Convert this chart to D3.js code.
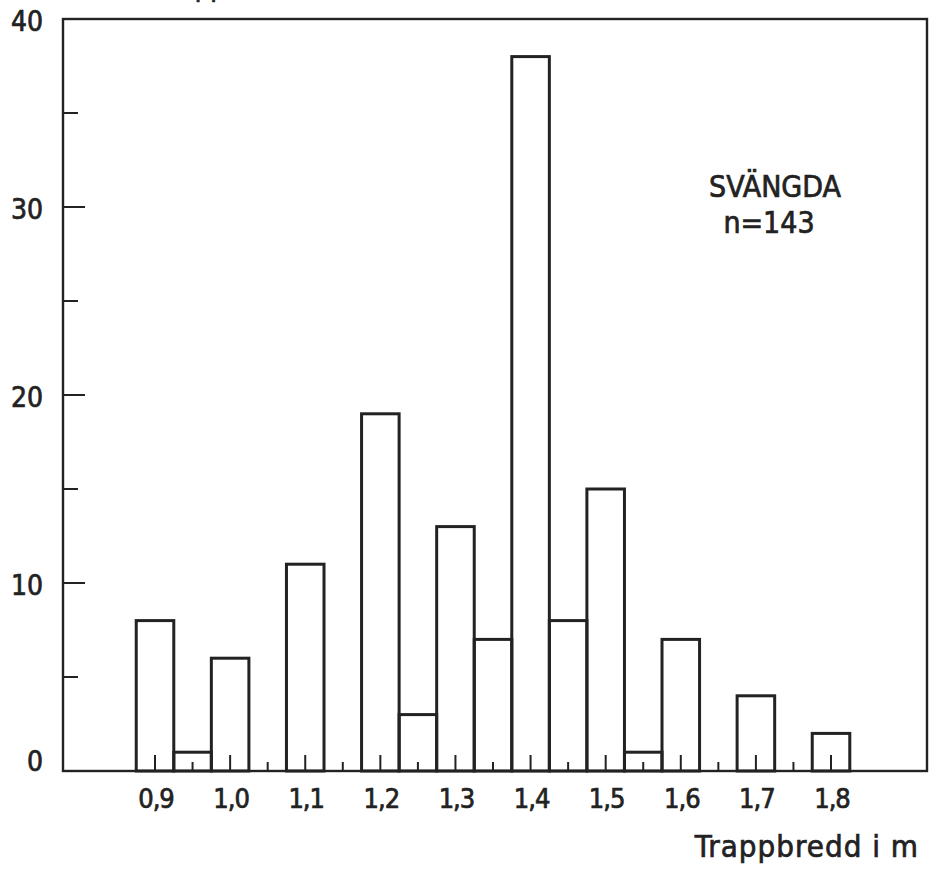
<!DOCTYPE html>
<html>
<head>
<meta charset="utf-8">
<script src="https://cdn.jsdelivr.net/npm/d3@7"></script>
<style>
  html, body { margin: 0; padding: 0; background: #fff; }
  svg { display: block; }
  text { font-family: "DejaVu Sans Condensed", "DejaVu Sans", sans-serif; fill: #222;
         stroke: #222; stroke-width: 0.7px; }
</style>
</head>
<body>
<script>
// Stair width classes (m), 0.05 m bins, and number of stairs in each
const binCenters = [0.90, 0.95, 1.00, 1.05, 1.10, 1.15, 1.20, 1.25, 1.30, 1.35,
                    1.40, 1.45, 1.50, 1.55, 1.60, 1.65, 1.70, 1.75, 1.80];
const counts     = [8, 1, 6, 0, 11, 0, 19, 3, 13, 7,
                    38, 8, 15, 1, 7, 0, 4, 0, 2];
const binWidth = 0.05;

const xMajorTicks  = [0.9, 1.0, 1.1, 1.2, 1.3, 1.4, 1.5, 1.6, 1.7, 1.8];
const xMajorLabels = ["0,9", "1,0", "1,1", "1,2", "1,3", "1,4", "1,5", "1,6", "1,7", "1,8"];
const xMinorTicks  = [0.95, 1.05, 1.15, 1.25, 1.35, 1.45, 1.55, 1.65, 1.75];
const yMajorTicks  = [0, 10, 20, 30, 40];
const yMinorTicks  = [5, 15, 25, 35];

const W = 934, H = 870;
const plot = { left: 63, right: 927, top: 19, bottom: 771 };

const svg = d3.select("body").append("svg").attr("width", W).attr("height", H);

const x = d3.scaleLinear().domain([0.7775, 1.9278]).range([plot.left, plot.right]);
const y = d3.scaleLinear().domain([0, 40]).range([plot.bottom, plot.top]);

const ink = "#222";

// Axis title (runs off the top edge of the page)
svg.append("text")
  .attr("x", 170).attr("y", -4)
  .attr("text-anchor", "middle")
  .attr("font-size", 27)
  .text("Antal trappor");

// Histogram outline
svg.append("g")
  .selectAll("rect")
  .data(binCenters.map((c, i) => ({ c, n: counts[i] })).filter(d => d.n > 0))
  .join("rect")
  .attr("x", d => x(d.c - binWidth / 2))
  .attr("width", d => x(d.c + binWidth / 2) - x(d.c - binWidth / 2))
  .attr("y", d => y(d.n))
  .attr("height", d => y(0) - y(d.n))
  .attr("fill", "none")
  .attr("stroke", ink)
  .attr("stroke-width", 3);

// Frame
svg.append("rect")
  .attr("x", plot.left).attr("y", plot.top)
  .attr("width", plot.right - plot.left)
  .attr("height", plot.bottom - plot.top)
  .attr("fill", "none")
  .attr("stroke", ink)
  .attr("stroke-width", 2.4);

// X ticks pointing up from the baseline
const xt = svg.append("g").attr("stroke", ink).attr("stroke-width", 2);
xt.selectAll("line.maj").data(xMajorTicks).join("line")
  .attr("x1", d => x(d)).attr("x2", d => x(d))
  .attr("y1", y(0)).attr("y2", y(0) - 16);
xt.selectAll("line.min").data(xMinorTicks).join("line")
  .attr("x1", d => x(d)).attr("x2", d => x(d))
  .attr("y1", y(0)).attr("y2", y(0) - 9);

svg.append("g").selectAll("text").data(xMajorTicks).join("text")
  .attr("x", d => x(d) + 1)
  .attr("y", 808)
  .attr("text-anchor", "middle")
  .attr("font-size", 27)
  .attr("letter-spacing", -1)
  .text((d, i) => xMajorLabels[i]);

// Y ticks pointing right from the left axis
const yt = svg.append("g").attr("stroke", ink).attr("stroke-width", 2);
yt.selectAll("line.maj").data(yMajorTicks.filter(d => d > 0 && d < 40)).join("line")
  .attr("x1", plot.left).attr("x2", plot.left + 22)
  .attr("y1", d => y(d)).attr("y2", d => y(d));
yt.selectAll("line.min").data(yMinorTicks).join("line")
  .attr("x1", plot.left).attr("x2", plot.left + 15)
  .attr("y1", d => y(d)).attr("y2", d => y(d));

svg.append("g").selectAll("text").data(yMajorTicks).join("text")
  .attr("x", 43)
  .attr("y", d => y(d) + (d === 0 ? 0 : 12))
  .attr("text-anchor", "end")
  .attr("font-size", 28)
  .text(d => d);

// Axis title for widths
svg.append("text")
  .attr("x", 919).attr("y", 857)
  .attr("text-anchor", "end")
  .attr("font-size", 31)
  .attr("letter-spacing", 1)
  .text("Trappbredd i m");

// Sample annotation
svg.append("text")
  .attr("x", 775).attr("y", 197)
  .attr("text-anchor", "middle")
  .attr("font-size", 30)
  .text("SVÄNGDA");
svg.append("text")
  .attr("x", 769).attr("y", 233)
  .attr("text-anchor", "middle")
  .attr("font-size", 30)
  .text("n=143");
</script>
</body>
</html>
